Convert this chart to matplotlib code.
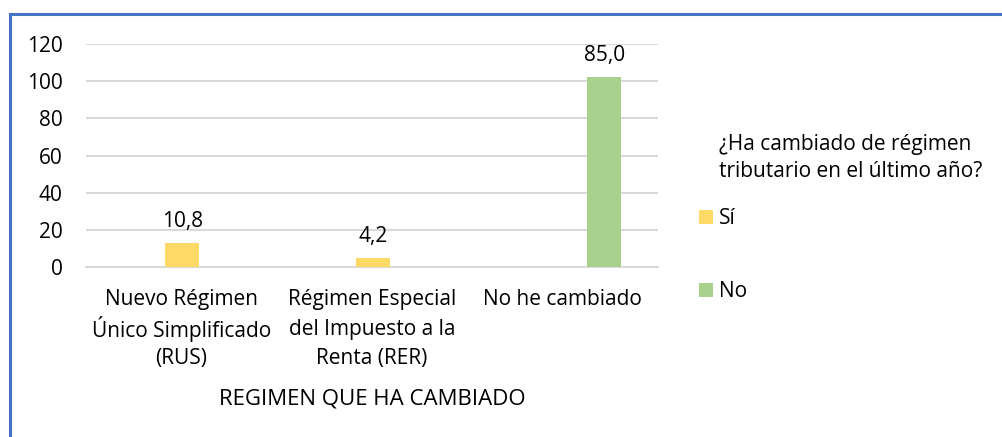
import matplotlib
matplotlib.use("Agg")
import matplotlib.pyplot as plt
from matplotlib.patches import Patch
from matplotlib.lines import Line2D

plt.rcParams['font.family'] = ['Open Sans', 'DejaVu Sans']

categories = ["Nuevo Régimen\nÚnico Simplificado\n(RUS)",
              "Régimen Especial\ndel Impuesto a la\nRenta (RER)",
              "No he cambiado"]
si_values = [13, 5, 0]
no_values = [0, 0, 102]
si_labels = ["10,8", "4,2", None]
no_labels = [None, None, "85,0"]
series_names = ["Sí", "No"]
legend_title = "¿Ha cambiado de régimen\ntributario en el último año?"
x_title = "REGIMEN QUE HA CAMBIADO"
y_ticks = [0, 20, 40, 60, 80, 100, 120]

c_si = "#FFD966"
c_no = "#A9D18E"
grid_c = "#D9D9D9"
fs = 15

W, H = 1002, 437
fig = plt.figure(figsize=(W/100, H/100), dpi=100)
ax = fig.add_axes([86/W, 1-267/H, (658-86)/W, (267-44)/H])

x = list(range(len(categories)))
w = 0.178
off_si = 0.005
off_no = 0.218

for i in x:
    if si_values[i] > 0:
        ax.bar(i + off_si, si_values[i], width=w, color=c_si, zorder=3)
        ax.annotate(si_labels[i], (i + off_si, si_values[i]), xytext=(0, 7.5),
                    textcoords="offset points", ha="center", va="bottom",
                    fontsize=fs, color="#000000")
    if no_values[i] > 0:
        ax.bar(i + off_no, no_values[i], width=w, color=c_no, zorder=3)
        ax.annotate(no_labels[i], (i + off_no, no_values[i]), xytext=(0, 8.5),
                    textcoords="offset points", ha="center", va="bottom",
                    fontsize=fs, color="#000000")

ax.set_xlim(-0.5, 2.5)
ax.set_ylim(0, 120)
ax.set_yticks(y_ticks)
ax.set_yticklabels([str(v) for v in y_ticks], fontsize=fs)
ax.set_xticks(x)
ax.set_xticklabels([""] * len(categories))
# category labels, one line at a time for even line spacing
for i, lab in enumerate(categories):
    for j, line in enumerate(lab.split("\n")):
        ax.annotate(line, (i, 0), xycoords=("data", "axes fraction"),
                    xytext=(0, -(32.5 + 29.5 * j)), textcoords="offset pixels",
                    ha="center", va="center", fontsize=fs)
ax.tick_params(axis="both", length=0)
ax.tick_params(axis="y", pad=17)
for s in ["top", "right", "left"]:
    ax.spines[s].set_visible(False)
ax.spines["bottom"].set_color(grid_c)
ax.spines["bottom"].set_linewidth(1.5)
ax.yaxis.grid(True, color=grid_c, linewidth=1.5, zorder=0)
ax.set_axisbelow(True)

fig.text(372/W, 1-399/H, x_title, ha="center", va="center", fontsize=16)

# legend title
fig.text(719/W, 1-158/H, legend_title, ha="left", va="center", fontsize=fs,
         linespacing=1.38)
handles = [Patch(facecolor=c_si, edgecolor="none"), Patch(facecolor=c_no, edgecolor="none")]
leg = fig.legend(handles, series_names, loc="upper left",
                 bbox_to_anchor=(699/W, 1-208/H), frameon=False,
                 fontsize=fs, handlelength=0.68, handleheight=0.68, handletextpad=0.3,
                 labelspacing=2.5, borderaxespad=0, borderpad=0)

# blue frame lines (top and left)
fig.add_artist(Line2D([9.5/W, 9.5/W], [0, 1-14/H], color="#4472C4", linewidth=2.2,
                      transform=fig.transFigure))
fig.add_artist(Line2D([9.5/W, 1], [1-14/H, 1-14/H], color="#4472C4", linewidth=2.2,
                      transform=fig.transFigure))

fig.savefig("out.png", dpi=100)
